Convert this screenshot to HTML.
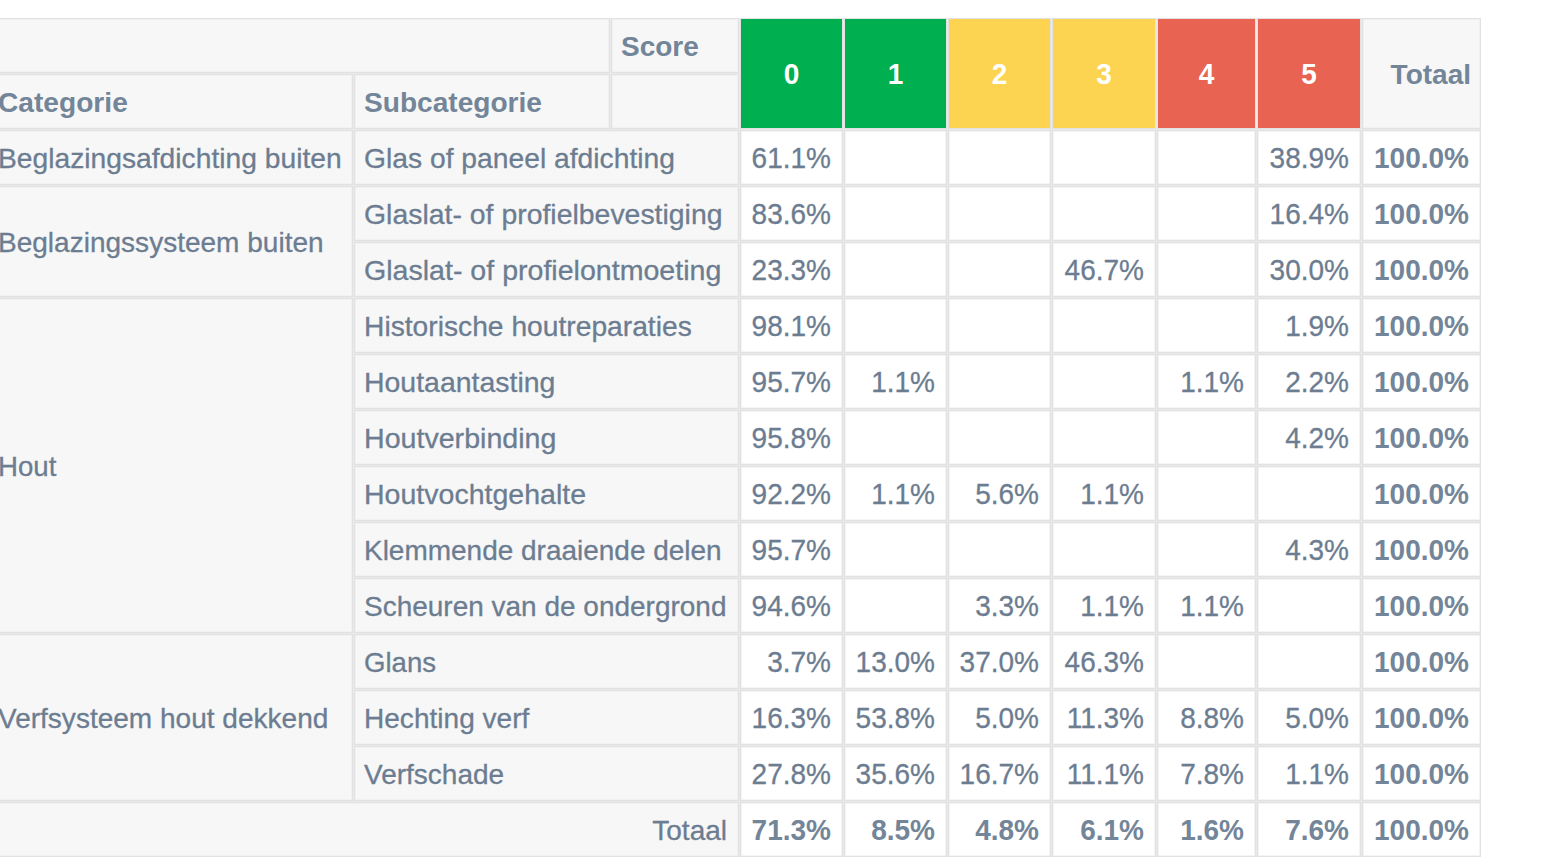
<!DOCTYPE html>
<html><head><meta charset="utf-8"><title>Pivot</title>
<style>
html,body{margin:0;padding:0;background:#fff;width:1548px;height:860px;overflow:hidden;}
body{position:relative;font-family:"Liberation Sans",Arial,Helvetica,sans-serif;font-size:28px;}
.g{position:absolute;background:#e9e9e9;}
.c{position:absolute;box-sizing:border-box;border:1px solid #e2e2e2;white-space:nowrap;overflow:hidden;}
.t{position:absolute;left:0;right:0;line-height:32px;height:32px;padding:0 11px 0 9px;-webkit-text-stroke:0.3px;}
.l{transform-origin:9px 25.7px;}
.r{transform-origin:calc(100% - 11px) 25.7px;}
.m{transform-origin:50% 25.7px;}
.b{font-weight:bold;-webkit-text-stroke:0;}
</style></head><body>
<div class="g" style="left:-12px;top:18px;width:1493px;height:839px;"></div>
<div class="c" style="left:-12px;top:18px;width:622px;height:55px;background:#f7f7f7;box-shadow:inset 0 0 0 1px #f1f1f1;"><div class="t l" style="top:12.30px;text-align:left;color:#6c7d91;"></div></div>
<div class="c" style="left:611px;top:18px;width:128px;height:55px;background:#f7f7f7;box-shadow:inset 0 0 0 1px #f1f1f1;"><div class="t b l" style="top:12.30px;text-align:left;color:#738598;">Score</div></div>
<div class="c" style="left:740px;top:18px;width:103px;height:111px;background:#00b050;"><div class="t b m" style="top:40.30px;text-align:center;color:#fff;padding:0 10px;transform:scale(1.0000,1.035);">0</div></div>
<div class="c" style="left:844px;top:18px;width:103px;height:111px;background:#00b050;"><div class="t b m" style="top:40.30px;text-align:center;color:#fff;padding:0 10px;transform:scale(1.0000,1.035);">1</div></div>
<div class="c" style="left:948px;top:18px;width:103px;height:111px;background:#fdd452;"><div class="t b m" style="top:40.30px;text-align:center;color:#fff;padding:0 10px;transform:scale(1.0000,1.035);">2</div></div>
<div class="c" style="left:1052px;top:18px;width:104px;height:111px;background:#fdd452;"><div class="t b m" style="top:40.30px;text-align:center;color:#fff;padding:0 10px;transform:scale(1.0000,1.035);">3</div></div>
<div class="c" style="left:1157px;top:18px;width:99px;height:111px;background:#e96353;"><div class="t b m" style="top:40.30px;text-align:center;color:#fff;padding:0 10px;transform:scale(1.0000,1.035);">4</div></div>
<div class="c" style="left:1257px;top:18px;width:104px;height:111px;background:#e96353;"><div class="t b m" style="top:40.30px;text-align:center;color:#fff;padding:0 10px;transform:scale(1.0000,1.035);">5</div></div>
<div class="c" style="left:1362px;top:18px;width:119px;height:111px;background:#f7f7f7;box-shadow:inset 0 0 0 1px #f1f1f1;"><div class="t b r" style="top:40.30px;text-align:right;color:#738598;padding-right:9px;transform-origin:calc(100% - 9px) 25.7px;">Totaal</div></div>
<div class="c" style="left:-12px;top:74px;width:365px;height:55px;background:#f7f7f7;box-shadow:inset 0 0 0 1px #f1f1f1;"><div class="t b l" style="top:12.30px;text-align:left;color:#738598;transform:scale(1.0050,1);">Categorie</div></div>
<div class="c" style="left:354px;top:74px;width:256px;height:55px;background:#f7f7f7;box-shadow:inset 0 0 0 1px #f1f1f1;"><div class="t b l" style="top:12.30px;text-align:left;color:#738598;transform:scale(1.0030,1);">Subcategorie</div></div>
<div class="c" style="left:611px;top:74px;width:128px;height:55px;background:#f7f7f7;box-shadow:inset 0 0 0 1px #f1f1f1;"><div class="t l" style="top:12.30px;text-align:left;color:#6c7d91;"></div></div>
<div class="c" style="left:-12px;top:130px;width:365px;height:55px;background:#f7f7f7;box-shadow:inset 0 0 0 1px #f1f1f1;"><div class="t l" style="top:12.30px;text-align:left;color:#6c7d91;transform:scale(1.0080,1);">Beglazingsafdichting buiten</div></div>
<div class="c" style="left:354px;top:130px;width:385px;height:55px;background:#f7f7f7;box-shadow:inset 0 0 0 1px #f1f1f1;"><div class="t l" style="top:12.30px;text-align:left;color:#6c7d91;transform:scale(1.0090,1);">Glas of paneel afdichting</div></div>
<div class="c" style="left:740px;top:130px;width:103px;height:55px;background:#fff;box-shadow:inset 0 0 0 1px #f4f4f4;"><div class="t r" style="top:12.30px;text-align:right;color:#6c7d91;transform:scale(1.0000,1.035);">61.1%</div></div>
<div class="c" style="left:844px;top:130px;width:103px;height:55px;background:#fff;box-shadow:inset 0 0 0 1px #f4f4f4;"><div class="t r" style="top:12.30px;text-align:right;color:#6c7d91;"></div></div>
<div class="c" style="left:948px;top:130px;width:103px;height:55px;background:#fff;box-shadow:inset 0 0 0 1px #f4f4f4;"><div class="t r" style="top:12.30px;text-align:right;color:#6c7d91;"></div></div>
<div class="c" style="left:1052px;top:130px;width:104px;height:55px;background:#fff;box-shadow:inset 0 0 0 1px #f4f4f4;"><div class="t r" style="top:12.30px;text-align:right;color:#6c7d91;"></div></div>
<div class="c" style="left:1157px;top:130px;width:99px;height:55px;background:#fff;box-shadow:inset 0 0 0 1px #f4f4f4;"><div class="t r" style="top:12.30px;text-align:right;color:#6c7d91;"></div></div>
<div class="c" style="left:1257px;top:130px;width:104px;height:55px;background:#fff;box-shadow:inset 0 0 0 1px #f4f4f4;"><div class="t r" style="top:12.30px;text-align:right;color:#6c7d91;transform:scale(1.0000,1.035);">38.9%</div></div>
<div class="c" style="left:1362px;top:130px;width:119px;height:55px;background:#fff;box-shadow:inset 0 0 0 1px #f4f4f4;"><div class="t b r" style="top:12.30px;text-align:right;color:#738598;transform:scale(1.0000,1.035);">100.0%</div></div>
<div class="c" style="left:-12px;top:186px;width:365px;height:111px;background:#f7f7f7;box-shadow:inset 0 0 0 1px #f1f1f1;"><div class="t l" style="top:40.30px;text-align:left;color:#6c7d91;transform:scale(1.0010,1);">Beglazingssysteem buiten</div></div>
<div class="c" style="left:354px;top:186px;width:385px;height:55px;background:#f7f7f7;box-shadow:inset 0 0 0 1px #f1f1f1;"><div class="t l" style="top:12.30px;text-align:left;color:#6c7d91;transform:scale(1.0148,1);">Glaslat- of profielbevestiging</div></div>
<div class="c" style="left:740px;top:186px;width:103px;height:55px;background:#fff;box-shadow:inset 0 0 0 1px #f4f4f4;"><div class="t r" style="top:12.30px;text-align:right;color:#6c7d91;transform:scale(1.0000,1.035);">83.6%</div></div>
<div class="c" style="left:844px;top:186px;width:103px;height:55px;background:#fff;box-shadow:inset 0 0 0 1px #f4f4f4;"><div class="t r" style="top:12.30px;text-align:right;color:#6c7d91;"></div></div>
<div class="c" style="left:948px;top:186px;width:103px;height:55px;background:#fff;box-shadow:inset 0 0 0 1px #f4f4f4;"><div class="t r" style="top:12.30px;text-align:right;color:#6c7d91;"></div></div>
<div class="c" style="left:1052px;top:186px;width:104px;height:55px;background:#fff;box-shadow:inset 0 0 0 1px #f4f4f4;"><div class="t r" style="top:12.30px;text-align:right;color:#6c7d91;"></div></div>
<div class="c" style="left:1157px;top:186px;width:99px;height:55px;background:#fff;box-shadow:inset 0 0 0 1px #f4f4f4;"><div class="t r" style="top:12.30px;text-align:right;color:#6c7d91;"></div></div>
<div class="c" style="left:1257px;top:186px;width:104px;height:55px;background:#fff;box-shadow:inset 0 0 0 1px #f4f4f4;"><div class="t r" style="top:12.30px;text-align:right;color:#6c7d91;transform:scale(1.0000,1.035);">16.4%</div></div>
<div class="c" style="left:1362px;top:186px;width:119px;height:55px;background:#fff;box-shadow:inset 0 0 0 1px #f4f4f4;"><div class="t b r" style="top:12.30px;text-align:right;color:#738598;transform:scale(1.0000,1.035);">100.0%</div></div>
<div class="c" style="left:354px;top:242px;width:385px;height:55px;background:#f7f7f7;box-shadow:inset 0 0 0 1px #f1f1f1;"><div class="t l" style="top:12.30px;text-align:left;color:#6c7d91;transform:scale(1.0203,1);">Glaslat- of profielontmoeting</div></div>
<div class="c" style="left:740px;top:242px;width:103px;height:55px;background:#fff;box-shadow:inset 0 0 0 1px #f4f4f4;"><div class="t r" style="top:12.30px;text-align:right;color:#6c7d91;transform:scale(1.0000,1.035);">23.3%</div></div>
<div class="c" style="left:844px;top:242px;width:103px;height:55px;background:#fff;box-shadow:inset 0 0 0 1px #f4f4f4;"><div class="t r" style="top:12.30px;text-align:right;color:#6c7d91;"></div></div>
<div class="c" style="left:948px;top:242px;width:103px;height:55px;background:#fff;box-shadow:inset 0 0 0 1px #f4f4f4;"><div class="t r" style="top:12.30px;text-align:right;color:#6c7d91;"></div></div>
<div class="c" style="left:1052px;top:242px;width:104px;height:55px;background:#fff;box-shadow:inset 0 0 0 1px #f4f4f4;"><div class="t r" style="top:12.30px;text-align:right;color:#6c7d91;transform:scale(1.0000,1.035);">46.7%</div></div>
<div class="c" style="left:1157px;top:242px;width:99px;height:55px;background:#fff;box-shadow:inset 0 0 0 1px #f4f4f4;"><div class="t r" style="top:12.30px;text-align:right;color:#6c7d91;"></div></div>
<div class="c" style="left:1257px;top:242px;width:104px;height:55px;background:#fff;box-shadow:inset 0 0 0 1px #f4f4f4;"><div class="t r" style="top:12.30px;text-align:right;color:#6c7d91;transform:scale(1.0000,1.035);">30.0%</div></div>
<div class="c" style="left:1362px;top:242px;width:119px;height:55px;background:#fff;box-shadow:inset 0 0 0 1px #f4f4f4;"><div class="t b r" style="top:12.30px;text-align:right;color:#738598;transform:scale(1.0000,1.035);">100.0%</div></div>
<div class="c" style="left:-12px;top:298px;width:365px;height:335px;background:#f7f7f7;box-shadow:inset 0 0 0 1px #f1f1f1;"><div class="t l" style="top:152.30px;text-align:left;color:#6c7d91;transform:scale(0.9870,1);">Hout</div></div>
<div class="c" style="left:354px;top:298px;width:385px;height:55px;background:#f7f7f7;box-shadow:inset 0 0 0 1px #f1f1f1;"><div class="t l" style="top:12.30px;text-align:left;color:#6c7d91;transform:scale(1.0077,1);">Historische houtreparaties</div></div>
<div class="c" style="left:740px;top:298px;width:103px;height:55px;background:#fff;box-shadow:inset 0 0 0 1px #f4f4f4;"><div class="t r" style="top:12.30px;text-align:right;color:#6c7d91;transform:scale(1.0000,1.035);">98.1%</div></div>
<div class="c" style="left:844px;top:298px;width:103px;height:55px;background:#fff;box-shadow:inset 0 0 0 1px #f4f4f4;"><div class="t r" style="top:12.30px;text-align:right;color:#6c7d91;"></div></div>
<div class="c" style="left:948px;top:298px;width:103px;height:55px;background:#fff;box-shadow:inset 0 0 0 1px #f4f4f4;"><div class="t r" style="top:12.30px;text-align:right;color:#6c7d91;"></div></div>
<div class="c" style="left:1052px;top:298px;width:104px;height:55px;background:#fff;box-shadow:inset 0 0 0 1px #f4f4f4;"><div class="t r" style="top:12.30px;text-align:right;color:#6c7d91;"></div></div>
<div class="c" style="left:1157px;top:298px;width:99px;height:55px;background:#fff;box-shadow:inset 0 0 0 1px #f4f4f4;"><div class="t r" style="top:12.30px;text-align:right;color:#6c7d91;"></div></div>
<div class="c" style="left:1257px;top:298px;width:104px;height:55px;background:#fff;box-shadow:inset 0 0 0 1px #f4f4f4;"><div class="t r" style="top:12.30px;text-align:right;color:#6c7d91;transform:scale(1.0000,1.035);">1.9%</div></div>
<div class="c" style="left:1362px;top:298px;width:119px;height:55px;background:#fff;box-shadow:inset 0 0 0 1px #f4f4f4;"><div class="t b r" style="top:12.30px;text-align:right;color:#738598;transform:scale(1.0000,1.035);">100.0%</div></div>
<div class="c" style="left:354px;top:354px;width:385px;height:55px;background:#f7f7f7;box-shadow:inset 0 0 0 1px #f1f1f1;"><div class="t l" style="top:12.30px;text-align:left;color:#6c7d91;transform:scale(1.0160,1);">Houtaantasting</div></div>
<div class="c" style="left:740px;top:354px;width:103px;height:55px;background:#fff;box-shadow:inset 0 0 0 1px #f4f4f4;"><div class="t r" style="top:12.30px;text-align:right;color:#6c7d91;transform:scale(1.0000,1.035);">95.7%</div></div>
<div class="c" style="left:844px;top:354px;width:103px;height:55px;background:#fff;box-shadow:inset 0 0 0 1px #f4f4f4;"><div class="t r" style="top:12.30px;text-align:right;color:#6c7d91;transform:scale(1.0000,1.035);">1.1%</div></div>
<div class="c" style="left:948px;top:354px;width:103px;height:55px;background:#fff;box-shadow:inset 0 0 0 1px #f4f4f4;"><div class="t r" style="top:12.30px;text-align:right;color:#6c7d91;"></div></div>
<div class="c" style="left:1052px;top:354px;width:104px;height:55px;background:#fff;box-shadow:inset 0 0 0 1px #f4f4f4;"><div class="t r" style="top:12.30px;text-align:right;color:#6c7d91;"></div></div>
<div class="c" style="left:1157px;top:354px;width:99px;height:55px;background:#fff;box-shadow:inset 0 0 0 1px #f4f4f4;"><div class="t r" style="top:12.30px;text-align:right;color:#6c7d91;transform:scale(1.0000,1.035);">1.1%</div></div>
<div class="c" style="left:1257px;top:354px;width:104px;height:55px;background:#fff;box-shadow:inset 0 0 0 1px #f4f4f4;"><div class="t r" style="top:12.30px;text-align:right;color:#6c7d91;transform:scale(1.0000,1.035);">2.2%</div></div>
<div class="c" style="left:1362px;top:354px;width:119px;height:55px;background:#fff;box-shadow:inset 0 0 0 1px #f4f4f4;"><div class="t b r" style="top:12.30px;text-align:right;color:#738598;transform:scale(1.0000,1.035);">100.0%</div></div>
<div class="c" style="left:354px;top:410px;width:385px;height:55px;background:#f7f7f7;box-shadow:inset 0 0 0 1px #f1f1f1;"><div class="t l" style="top:12.30px;text-align:left;color:#6c7d91;transform:scale(1.0214,1);">Houtverbinding</div></div>
<div class="c" style="left:740px;top:410px;width:103px;height:55px;background:#fff;box-shadow:inset 0 0 0 1px #f4f4f4;"><div class="t r" style="top:12.30px;text-align:right;color:#6c7d91;transform:scale(1.0000,1.035);">95.8%</div></div>
<div class="c" style="left:844px;top:410px;width:103px;height:55px;background:#fff;box-shadow:inset 0 0 0 1px #f4f4f4;"><div class="t r" style="top:12.30px;text-align:right;color:#6c7d91;"></div></div>
<div class="c" style="left:948px;top:410px;width:103px;height:55px;background:#fff;box-shadow:inset 0 0 0 1px #f4f4f4;"><div class="t r" style="top:12.30px;text-align:right;color:#6c7d91;"></div></div>
<div class="c" style="left:1052px;top:410px;width:104px;height:55px;background:#fff;box-shadow:inset 0 0 0 1px #f4f4f4;"><div class="t r" style="top:12.30px;text-align:right;color:#6c7d91;"></div></div>
<div class="c" style="left:1157px;top:410px;width:99px;height:55px;background:#fff;box-shadow:inset 0 0 0 1px #f4f4f4;"><div class="t r" style="top:12.30px;text-align:right;color:#6c7d91;"></div></div>
<div class="c" style="left:1257px;top:410px;width:104px;height:55px;background:#fff;box-shadow:inset 0 0 0 1px #f4f4f4;"><div class="t r" style="top:12.30px;text-align:right;color:#6c7d91;transform:scale(1.0000,1.035);">4.2%</div></div>
<div class="c" style="left:1362px;top:410px;width:119px;height:55px;background:#fff;box-shadow:inset 0 0 0 1px #f4f4f4;"><div class="t b r" style="top:12.30px;text-align:right;color:#738598;transform:scale(1.0000,1.035);">100.0%</div></div>
<div class="c" style="left:354px;top:466px;width:385px;height:55px;background:#f7f7f7;box-shadow:inset 0 0 0 1px #f1f1f1;"><div class="t l" style="top:12.30px;text-align:left;color:#6c7d91;transform:scale(1.0190,1);">Houtvochtgehalte</div></div>
<div class="c" style="left:740px;top:466px;width:103px;height:55px;background:#fff;box-shadow:inset 0 0 0 1px #f4f4f4;"><div class="t r" style="top:12.30px;text-align:right;color:#6c7d91;transform:scale(1.0000,1.035);">92.2%</div></div>
<div class="c" style="left:844px;top:466px;width:103px;height:55px;background:#fff;box-shadow:inset 0 0 0 1px #f4f4f4;"><div class="t r" style="top:12.30px;text-align:right;color:#6c7d91;transform:scale(1.0000,1.035);">1.1%</div></div>
<div class="c" style="left:948px;top:466px;width:103px;height:55px;background:#fff;box-shadow:inset 0 0 0 1px #f4f4f4;"><div class="t r" style="top:12.30px;text-align:right;color:#6c7d91;transform:scale(1.0000,1.035);">5.6%</div></div>
<div class="c" style="left:1052px;top:466px;width:104px;height:55px;background:#fff;box-shadow:inset 0 0 0 1px #f4f4f4;"><div class="t r" style="top:12.30px;text-align:right;color:#6c7d91;transform:scale(1.0000,1.035);">1.1%</div></div>
<div class="c" style="left:1157px;top:466px;width:99px;height:55px;background:#fff;box-shadow:inset 0 0 0 1px #f4f4f4;"><div class="t r" style="top:12.30px;text-align:right;color:#6c7d91;"></div></div>
<div class="c" style="left:1257px;top:466px;width:104px;height:55px;background:#fff;box-shadow:inset 0 0 0 1px #f4f4f4;"><div class="t r" style="top:12.30px;text-align:right;color:#6c7d91;"></div></div>
<div class="c" style="left:1362px;top:466px;width:119px;height:55px;background:#fff;box-shadow:inset 0 0 0 1px #f4f4f4;"><div class="t b r" style="top:12.30px;text-align:right;color:#738598;transform:scale(1.0000,1.035);">100.0%</div></div>
<div class="c" style="left:354px;top:522px;width:385px;height:55px;background:#f7f7f7;box-shadow:inset 0 0 0 1px #f1f1f1;"><div class="t l" style="top:12.30px;text-align:left;color:#6c7d91;transform:scale(0.9990,1);">Klemmende draaiende delen</div></div>
<div class="c" style="left:740px;top:522px;width:103px;height:55px;background:#fff;box-shadow:inset 0 0 0 1px #f4f4f4;"><div class="t r" style="top:12.30px;text-align:right;color:#6c7d91;transform:scale(1.0000,1.035);">95.7%</div></div>
<div class="c" style="left:844px;top:522px;width:103px;height:55px;background:#fff;box-shadow:inset 0 0 0 1px #f4f4f4;"><div class="t r" style="top:12.30px;text-align:right;color:#6c7d91;"></div></div>
<div class="c" style="left:948px;top:522px;width:103px;height:55px;background:#fff;box-shadow:inset 0 0 0 1px #f4f4f4;"><div class="t r" style="top:12.30px;text-align:right;color:#6c7d91;"></div></div>
<div class="c" style="left:1052px;top:522px;width:104px;height:55px;background:#fff;box-shadow:inset 0 0 0 1px #f4f4f4;"><div class="t r" style="top:12.30px;text-align:right;color:#6c7d91;"></div></div>
<div class="c" style="left:1157px;top:522px;width:99px;height:55px;background:#fff;box-shadow:inset 0 0 0 1px #f4f4f4;"><div class="t r" style="top:12.30px;text-align:right;color:#6c7d91;"></div></div>
<div class="c" style="left:1257px;top:522px;width:104px;height:55px;background:#fff;box-shadow:inset 0 0 0 1px #f4f4f4;"><div class="t r" style="top:12.30px;text-align:right;color:#6c7d91;transform:scale(1.0000,1.035);">4.3%</div></div>
<div class="c" style="left:1362px;top:522px;width:119px;height:55px;background:#fff;box-shadow:inset 0 0 0 1px #f4f4f4;"><div class="t b r" style="top:12.30px;text-align:right;color:#738598;transform:scale(1.0000,1.035);">100.0%</div></div>
<div class="c" style="left:354px;top:578px;width:385px;height:55px;background:#f7f7f7;box-shadow:inset 0 0 0 1px #f1f1f1;"><div class="t l" style="top:12.30px;text-align:left;color:#6c7d91;transform:scale(0.9994,1);">Scheuren van de ondergrond</div></div>
<div class="c" style="left:740px;top:578px;width:103px;height:55px;background:#fff;box-shadow:inset 0 0 0 1px #f4f4f4;"><div class="t r" style="top:12.30px;text-align:right;color:#6c7d91;transform:scale(1.0000,1.035);">94.6%</div></div>
<div class="c" style="left:844px;top:578px;width:103px;height:55px;background:#fff;box-shadow:inset 0 0 0 1px #f4f4f4;"><div class="t r" style="top:12.30px;text-align:right;color:#6c7d91;"></div></div>
<div class="c" style="left:948px;top:578px;width:103px;height:55px;background:#fff;box-shadow:inset 0 0 0 1px #f4f4f4;"><div class="t r" style="top:12.30px;text-align:right;color:#6c7d91;transform:scale(1.0000,1.035);">3.3%</div></div>
<div class="c" style="left:1052px;top:578px;width:104px;height:55px;background:#fff;box-shadow:inset 0 0 0 1px #f4f4f4;"><div class="t r" style="top:12.30px;text-align:right;color:#6c7d91;transform:scale(1.0000,1.035);">1.1%</div></div>
<div class="c" style="left:1157px;top:578px;width:99px;height:55px;background:#fff;box-shadow:inset 0 0 0 1px #f4f4f4;"><div class="t r" style="top:12.30px;text-align:right;color:#6c7d91;transform:scale(1.0000,1.035);">1.1%</div></div>
<div class="c" style="left:1257px;top:578px;width:104px;height:55px;background:#fff;box-shadow:inset 0 0 0 1px #f4f4f4;"><div class="t r" style="top:12.30px;text-align:right;color:#6c7d91;"></div></div>
<div class="c" style="left:1362px;top:578px;width:119px;height:55px;background:#fff;box-shadow:inset 0 0 0 1px #f4f4f4;"><div class="t b r" style="top:12.30px;text-align:right;color:#738598;transform:scale(1.0000,1.035);">100.0%</div></div>
<div class="c" style="left:-12px;top:634px;width:365px;height:167px;background:#f7f7f7;box-shadow:inset 0 0 0 1px #f1f1f1;"><div class="t l" style="top:68.30px;text-align:left;color:#6c7d91;transform:scale(1.0010,1);">Verfsysteem hout dekkend</div></div>
<div class="c" style="left:354px;top:634px;width:385px;height:55px;background:#f7f7f7;box-shadow:inset 0 0 0 1px #f1f1f1;"><div class="t l" style="top:12.30px;text-align:left;color:#6c7d91;transform:scale(0.9850,1);">Glans</div></div>
<div class="c" style="left:740px;top:634px;width:103px;height:55px;background:#fff;box-shadow:inset 0 0 0 1px #f4f4f4;"><div class="t r" style="top:12.30px;text-align:right;color:#6c7d91;transform:scale(1.0000,1.035);">3.7%</div></div>
<div class="c" style="left:844px;top:634px;width:103px;height:55px;background:#fff;box-shadow:inset 0 0 0 1px #f4f4f4;"><div class="t r" style="top:12.30px;text-align:right;color:#6c7d91;transform:scale(1.0000,1.035);">13.0%</div></div>
<div class="c" style="left:948px;top:634px;width:103px;height:55px;background:#fff;box-shadow:inset 0 0 0 1px #f4f4f4;"><div class="t r" style="top:12.30px;text-align:right;color:#6c7d91;transform:scale(1.0000,1.035);">37.0%</div></div>
<div class="c" style="left:1052px;top:634px;width:104px;height:55px;background:#fff;box-shadow:inset 0 0 0 1px #f4f4f4;"><div class="t r" style="top:12.30px;text-align:right;color:#6c7d91;transform:scale(1.0000,1.035);">46.3%</div></div>
<div class="c" style="left:1157px;top:634px;width:99px;height:55px;background:#fff;box-shadow:inset 0 0 0 1px #f4f4f4;"><div class="t r" style="top:12.30px;text-align:right;color:#6c7d91;"></div></div>
<div class="c" style="left:1257px;top:634px;width:104px;height:55px;background:#fff;box-shadow:inset 0 0 0 1px #f4f4f4;"><div class="t r" style="top:12.30px;text-align:right;color:#6c7d91;"></div></div>
<div class="c" style="left:1362px;top:634px;width:119px;height:55px;background:#fff;box-shadow:inset 0 0 0 1px #f4f4f4;"><div class="t b r" style="top:12.30px;text-align:right;color:#738598;transform:scale(1.0000,1.035);">100.0%</div></div>
<div class="c" style="left:354px;top:690px;width:385px;height:55px;background:#f7f7f7;box-shadow:inset 0 0 0 1px #f1f1f1;"><div class="t l" style="top:12.30px;text-align:left;color:#6c7d91;transform:scale(1.0020,1);">Hechting verf</div></div>
<div class="c" style="left:740px;top:690px;width:103px;height:55px;background:#fff;box-shadow:inset 0 0 0 1px #f4f4f4;"><div class="t r" style="top:12.30px;text-align:right;color:#6c7d91;transform:scale(1.0000,1.035);">16.3%</div></div>
<div class="c" style="left:844px;top:690px;width:103px;height:55px;background:#fff;box-shadow:inset 0 0 0 1px #f4f4f4;"><div class="t r" style="top:12.30px;text-align:right;color:#6c7d91;transform:scale(1.0000,1.035);">53.8%</div></div>
<div class="c" style="left:948px;top:690px;width:103px;height:55px;background:#fff;box-shadow:inset 0 0 0 1px #f4f4f4;"><div class="t r" style="top:12.30px;text-align:right;color:#6c7d91;transform:scale(1.0000,1.035);">5.0%</div></div>
<div class="c" style="left:1052px;top:690px;width:104px;height:55px;background:#fff;box-shadow:inset 0 0 0 1px #f4f4f4;"><div class="t r" style="top:12.30px;text-align:right;color:#6c7d91;transform:scale(1.0000,1.035);">11.3%</div></div>
<div class="c" style="left:1157px;top:690px;width:99px;height:55px;background:#fff;box-shadow:inset 0 0 0 1px #f4f4f4;"><div class="t r" style="top:12.30px;text-align:right;color:#6c7d91;transform:scale(1.0000,1.035);">8.8%</div></div>
<div class="c" style="left:1257px;top:690px;width:104px;height:55px;background:#fff;box-shadow:inset 0 0 0 1px #f4f4f4;"><div class="t r" style="top:12.30px;text-align:right;color:#6c7d91;transform:scale(1.0000,1.035);">5.0%</div></div>
<div class="c" style="left:1362px;top:690px;width:119px;height:55px;background:#fff;box-shadow:inset 0 0 0 1px #f4f4f4;"><div class="t b r" style="top:12.30px;text-align:right;color:#738598;transform:scale(1.0000,1.035);">100.0%</div></div>
<div class="c" style="left:354px;top:746px;width:385px;height:55px;background:#f7f7f7;box-shadow:inset 0 0 0 1px #f1f1f1;"><div class="t l" style="top:12.30px;text-align:left;color:#6c7d91;">Verfschade</div></div>
<div class="c" style="left:740px;top:746px;width:103px;height:55px;background:#fff;box-shadow:inset 0 0 0 1px #f4f4f4;"><div class="t r" style="top:12.30px;text-align:right;color:#6c7d91;transform:scale(1.0000,1.035);">27.8%</div></div>
<div class="c" style="left:844px;top:746px;width:103px;height:55px;background:#fff;box-shadow:inset 0 0 0 1px #f4f4f4;"><div class="t r" style="top:12.30px;text-align:right;color:#6c7d91;transform:scale(1.0000,1.035);">35.6%</div></div>
<div class="c" style="left:948px;top:746px;width:103px;height:55px;background:#fff;box-shadow:inset 0 0 0 1px #f4f4f4;"><div class="t r" style="top:12.30px;text-align:right;color:#6c7d91;transform:scale(1.0000,1.035);">16.7%</div></div>
<div class="c" style="left:1052px;top:746px;width:104px;height:55px;background:#fff;box-shadow:inset 0 0 0 1px #f4f4f4;"><div class="t r" style="top:12.30px;text-align:right;color:#6c7d91;transform:scale(1.0000,1.035);">11.1%</div></div>
<div class="c" style="left:1157px;top:746px;width:99px;height:55px;background:#fff;box-shadow:inset 0 0 0 1px #f4f4f4;"><div class="t r" style="top:12.30px;text-align:right;color:#6c7d91;transform:scale(1.0000,1.035);">7.8%</div></div>
<div class="c" style="left:1257px;top:746px;width:104px;height:55px;background:#fff;box-shadow:inset 0 0 0 1px #f4f4f4;"><div class="t r" style="top:12.30px;text-align:right;color:#6c7d91;transform:scale(1.0000,1.035);">1.1%</div></div>
<div class="c" style="left:1362px;top:746px;width:119px;height:55px;background:#fff;box-shadow:inset 0 0 0 1px #f4f4f4;"><div class="t b r" style="top:12.30px;text-align:right;color:#738598;transform:scale(1.0000,1.035);">100.0%</div></div>
<div class="c" style="left:-12px;top:802px;width:751px;height:55px;background:#f7f7f7;box-shadow:inset 0 0 0 1px #f1f1f1;"><div class="t r" style="top:12.30px;text-align:right;color:#6c7d91;">Totaal</div></div>
<div class="c" style="left:740px;top:802px;width:103px;height:55px;background:#fff;box-shadow:inset 0 0 0 1px #f4f4f4;"><div class="t b r" style="top:12.30px;text-align:right;color:#738598;transform:scale(1.0000,1.035);">71.3%</div></div>
<div class="c" style="left:844px;top:802px;width:103px;height:55px;background:#fff;box-shadow:inset 0 0 0 1px #f4f4f4;"><div class="t b r" style="top:12.30px;text-align:right;color:#738598;transform:scale(1.0000,1.035);">8.5%</div></div>
<div class="c" style="left:948px;top:802px;width:103px;height:55px;background:#fff;box-shadow:inset 0 0 0 1px #f4f4f4;"><div class="t b r" style="top:12.30px;text-align:right;color:#738598;transform:scale(1.0000,1.035);">4.8%</div></div>
<div class="c" style="left:1052px;top:802px;width:104px;height:55px;background:#fff;box-shadow:inset 0 0 0 1px #f4f4f4;"><div class="t b r" style="top:12.30px;text-align:right;color:#738598;transform:scale(1.0000,1.035);">6.1%</div></div>
<div class="c" style="left:1157px;top:802px;width:99px;height:55px;background:#fff;box-shadow:inset 0 0 0 1px #f4f4f4;"><div class="t b r" style="top:12.30px;text-align:right;color:#738598;transform:scale(1.0000,1.035);">1.6%</div></div>
<div class="c" style="left:1257px;top:802px;width:104px;height:55px;background:#fff;box-shadow:inset 0 0 0 1px #f4f4f4;"><div class="t b r" style="top:12.30px;text-align:right;color:#738598;transform:scale(1.0000,1.035);">7.6%</div></div>
<div class="c" style="left:1362px;top:802px;width:119px;height:55px;background:#fff;box-shadow:inset 0 0 0 1px #f4f4f4;"><div class="t b r" style="top:12.30px;text-align:right;color:#738598;transform:scale(1.0000,1.035);">100.0%</div></div>
</body></html>
